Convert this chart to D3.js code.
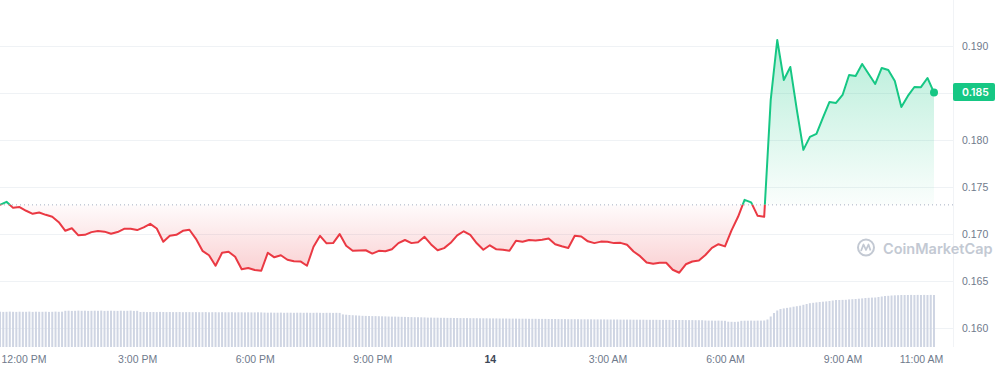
<!DOCTYPE html>
<html>
<head>
<meta charset="utf-8">
<script src="https://cdn.jsdelivr.net/npm/d3@7"></script>
<style>
  body { margin: 0; background: #fff; }
  svg { display: block; font-family: Inter, "Noto Sans", sans-serif; }
</style>
</head>
<body>
<div id="chart"></div>
<script>
// price, one point every 10 minutes from 11:30 AM on the 13th
var startTime = new Date(2023, 2, 13, 11, 30);
var prices = [
  0.17310, 0.17342, 0.17278, 0.17286, 0.17247, 0.17215, 0.17228, 0.17204, 0.17183, 0.17126,
  0.17034, 0.17061, 0.16986, 0.16991, 0.17020, 0.17031, 0.17025, 0.17002, 0.17021, 0.17055,
  0.17055, 0.17042, 0.17071, 0.17108, 0.17058, 0.16917, 0.16981, 0.16991, 0.17034, 0.17045,
  0.16949, 0.16821, 0.16774, 0.16662, 0.16800, 0.16811, 0.16758, 0.16625, 0.16638, 0.16617,
  0.16609, 0.16800, 0.16752, 0.16774, 0.16726, 0.16710, 0.16708, 0.16662, 0.16864, 0.16981,
  0.16901, 0.16903, 0.16999, 0.16875, 0.16821, 0.16825, 0.16827, 0.16792, 0.16821, 0.16816,
  0.16837, 0.16903, 0.16936, 0.16903, 0.16912, 0.16970, 0.16889, 0.16827, 0.16850, 0.16906,
  0.16986, 0.17029, 0.16991, 0.16901, 0.16832, 0.16880, 0.16837, 0.16832, 0.16821, 0.16928,
  0.16917, 0.16936, 0.16930, 0.16940, 0.16952, 0.16891, 0.16869, 0.16851, 0.16981, 0.16974,
  0.16922, 0.16903, 0.16919, 0.16918, 0.16903, 0.16906, 0.16885, 0.16814, 0.16764, 0.16697,
  0.16683, 0.16694, 0.16694, 0.16620, 0.16588, 0.16678, 0.16707, 0.16717, 0.16777, 0.16853,
  0.16891, 0.16868, 0.17039, 0.17183, 0.17363, 0.17337, 0.17193, 0.17183, 0.18426, 0.19064,
  0.18639, 0.18777, 0.18320, 0.17895, 0.18033, 0.18065, 0.18237, 0.18405, 0.18394, 0.18479,
  0.18692, 0.18681, 0.18809, 0.18702, 0.18596, 0.18766, 0.18745, 0.18628, 0.18352, 0.18469,
  0.18564, 0.18562, 0.18660, 0.18504
];

// volume bars (millions), one every 5 minutes
var volumes = [
  35.3,35.1,35.2,35.4,35.2,35.1,35.3,35.2,35.2,35.4,35.1,35.3,35.2,35.2,35.3,35.1,35.2,35.4,35.2,35.3,
  36.2,36.3,36.1,36.2,36.4,36.2,36.3,36.1,36.2,36.3,36.2,36.4,36.1,36.2,36.3,36.2,36.1,36.3,36.2,36.2,36.4,36.1,36.2,
  35.0,35.1,34.9,35.0,35.0,34.9,35.1,35.0,34.9,35.0,34.9,34.9,35.0,34.8,34.9,34.9,34.8,34.9,34.8,34.8,
  34.9,34.7,34.8,34.8,34.7,34.8,34.7,34.7,34.8,34.6,34.7,34.7,34.6,34.7,34.6,34.6,34.7,34.6,
  34.4,34.3,34.4,34.3,34.3,34.4,34.2,34.3,34.3,34.2,34.3,34.3,34.2,34.3,34.2,34.2,34.3,34.2,34.1,34.2,34.2,34.1,34.2,34.1,
  32.6,32.3,32.0,31.8,31.6,31.4,
  31.2,31.1,31.0,30.9,30.9,30.8,30.7,30.6,30.5,30.4,30.4,30.3,30.2,30.1,30.0,29.9,29.8,29.8,29.7,29.6,
  29.4,29.4,29.3,29.3,29.2,29.2,29.1,29.1,29.0,29.0,28.9,28.9,28.9,28.8,28.8,28.8,28.7,28.7,28.7,28.6,
  28.6,28.6,28.5,28.5,28.5,28.4,28.4,28.4,28.3,28.3,28.3,28.2,28.2,28.2,28.1,28.1,28.1,28.0,28.0,28.0,
  27.9,27.9,27.9,27.8,27.8,27.8,27.8,27.7,27.7,27.7,27.7,27.6,27.6,27.6,27.6,27.5,27.5,27.5,27.5,27.4,
  27.4,27.4,27.4,27.3,27.3,27.3,27.3,27.2,27.2,27.2,27.2,27.1,27.1,27.1,27.1,27.0,27.0,27.0,27.0,26.9,
  26.9,26.9,26.8,26.8,26.8,
  26.5,26.4,26.4,26.3,26.4,26.3,26.2,
  25.3,25.2,25.1,25.3,
  26.2,26.3,26.3,26.4,26.3,26.4,26.4,26.5,
  27.5,30.5,34.0,36.5,38.0,
  38.6,39.1,39.6,40.3,40.8,41.3,42.2,43.0,43.8,44.2,44.6,45.0,45.3,45.6,46.0,46.5,47.0,
  47.0,47.1,47.2,47.6,47.8,48.0,48.3,48.6,49.0,49.2,49.4,49.5,50.0,50.5,51.0,51.2,51.5,51.7,51.8,52.0,52.0,
  52.0,52.1,52.0,52.1,52.0,52.1,52.0,52.1,52.0
];

var yTicks = [0.160, 0.165, 0.170, 0.175, 0.180, 0.185, 0.190];
var xTicks = [
  new Date(2023, 2, 13, 12), new Date(2023, 2, 13, 15), new Date(2023, 2, 13, 18),
  new Date(2023, 2, 13, 21), new Date(2023, 2, 14, 0), new Date(2023, 2, 14, 3),
  new Date(2023, 2, 14, 6), new Date(2023, 2, 14, 9), new Date(2023, 2, 14, 11)
];
var openPrice = prices[0];
var lastPrice = prices[prices.length - 1];

var svgWidth = 998;
var svgHeight = 371;
var plotRight = 953;

var data = prices.map(function(p, i) {
  return { time: new Date(startTime.getTime() + i * 10 * 60000), price: p };
});
var volData = volumes.map(function(v, i) {
  return { time: new Date(startTime.getTime() + i * 5 * 60000), vol: v };
});

var svg = d3.select("#chart").append("svg")
  .attr("width", svgWidth)
  .attr("height", svgHeight);

var x = d3.scaleTime()
  .domain([startTime, data[data.length - 1].time])
  .range([0, 934]);
var y = d3.scaleLinear().domain([0.160, 0.190]).range([328, 46]);
var yVol = d3.scaleLinear().domain([0, 60]).range([347, 287]);

var yBase = y(openPrice);

// gridlines
svg.append("g")
  .selectAll("line")
  .data(yTicks)
  .enter()
  .append("line")
  .attr("x1", 0)
  .attr("x2", plotRight)
  .attr("y1", d => Math.round(y(d)) + 0.5)
  .attr("y2", d => Math.round(y(d)) + 0.5)
  .attr("stroke", "#eff2f5");

svg.append("line")
  .attr("x1", plotRight + 0.5).attr("x2", plotRight + 0.5)
  .attr("y1", 0).attr("y2", 347)
  .attr("stroke", "#f1f3f6");

// volume bars
svg.append("g")
  .selectAll("rect")
  .data(volData)
  .enter()
  .append("rect")
  .attr("x", d => x(d.time) - 1)
  .attr("width", 2)
  .attr("y", d => yVol(d.vol))
  .attr("height", d => yVol(0) - yVol(d.vol))
  .attr("fill", "#cfd5e3");

// gradients + clips
var defs = svg.append("defs");
var gUp = defs.append("linearGradient").attr("id", "gUp")
  .attr("gradientUnits", "userSpaceOnUse")
  .attr("x1", 0).attr("x2", 0).attr("y1", y(0.191)).attr("y2", yBase);
gUp.append("stop").attr("offset", 0).attr("stop-color", "#16c784").attr("stop-opacity", 0.32);
gUp.append("stop").attr("offset", 1).attr("stop-color", "#16c784").attr("stop-opacity", 0.02);

var gDown = defs.append("linearGradient").attr("id", "gDown")
  .attr("gradientUnits", "userSpaceOnUse")
  .attr("x1", 0).attr("x2", 0).attr("y1", yBase).attr("y2", y(d3.min(prices)));
gDown.append("stop").attr("offset", 0).attr("stop-color", "#ea3943").attr("stop-opacity", 0.02);
gDown.append("stop").attr("offset", 1).attr("stop-color", "#ea3943").attr("stop-opacity", 0.24);

defs.append("clipPath").attr("id", "clipUp")
  .append("rect").attr("x", -5).attr("y", 0).attr("width", 1000).attr("height", yBase);
defs.append("clipPath").attr("id", "clipDown")
  .append("rect").attr("x", -5).attr("y", yBase).attr("width", 1000).attr("height", 400);

var area = d3.area()
  .x(d => x(d.time))
  .y0(yBase)
  .y1(d => y(d.price));
var line = d3.line()
  .x(d => x(d.time))
  .y(d => y(d.price));

svg.append("path").datum(data)
  .attr("d", area).attr("fill", "url(#gUp)").attr("clip-path", "url(#clipUp)");
svg.append("path").datum(data)
  .attr("d", area).attr("fill", "url(#gDown)").attr("clip-path", "url(#clipDown)");

// dotted open price line
svg.append("line")
  .attr("x1", 0).attr("x2", plotRight)
  .attr("y1", yBase).attr("y2", yBase)
  .attr("stroke", "#a6b0c3")
  .attr("stroke-dasharray", "1,3");

svg.append("path").datum(data)
  .attr("d", line).attr("fill", "none")
  .attr("stroke", "#16c784").attr("stroke-width", 2)
  .attr("stroke-linejoin", "round")
  .attr("clip-path", "url(#clipUp)");
svg.append("path").datum(data)
  .attr("d", line).attr("fill", "none")
  .attr("stroke", "#ea3943").attr("stroke-width", 2)
  .attr("stroke-linejoin", "round")
  .attr("clip-path", "url(#clipDown)");

svg.append("circle")
  .attr("cx", x(data[data.length - 1].time))
  .attr("cy", y(lastPrice))
  .attr("r", 4)
  .attr("fill", "#16c784");

// watermark
var wm = svg.append("g").attr("fill", "none").attr("stroke", "#c3c9d3").attr("stroke-width", 2);
wm.append("circle").attr("cx", 866).attr("cy", 247.5).attr("r", 8);
wm.append("path")
  .attr("d", "M861,251 L863.5,244.5 L866,250 L868.5,244.5 L870.5,250.5")
  .attr("stroke-width", 1.8).attr("stroke-linejoin", "round");
svg.append("text")
  .attr("x", 883).attr("y", 253.5)
  .attr("font-size", "14.5px")
  .attr("font-weight", 600)
  .attr("fill", "#c3c9d3")
  .text("CoinMarketCap");

// y axis
var yAxis = svg.append("g")
  .attr("transform", "translate(962,0)")
  .call(d3.axisRight(y).tickValues(yTicks).tickSize(0).tickPadding(0).tickFormat(d3.format(".3f")));
yAxis.select(".domain").remove();
yAxis.selectAll("text")
  .attr("fill", "#6f7a8c")
  .attr("font-size", "10.5px");

// price badge
svg.append("rect")
  .attr("x", 953).attr("y", y(lastPrice) - 9.5)
  .attr("width", 42).attr("height", 18)
  .attr("rx", 2)
  .attr("fill", "#16c784");
svg.append("text")
  .attr("x", 962).attr("y", y(lastPrice))
  .attr("dy", "0.35em")
  .attr("font-size", "10.5px")
  .attr("font-weight", 600)
  .attr("fill", "#fff")
  .text(d3.format(".3f")(lastPrice));

// x axis
var fmtHour = d3.timeFormat("%-I:%M %p");
var xAxis = svg.append("g")
  .attr("transform", "translate(0,355.5)")
  .call(d3.axisBottom(x).tickValues(xTicks).tickSize(0).tickPadding(0)
    .tickFormat(d => d.getHours() === 0 ? d3.timeFormat("%-d")(d) : fmtHour(d)));
xAxis.select(".domain").remove();
xAxis.selectAll("text")
  .attr("font-size", "10.5px")
  .attr("font-weight", d => d.getHours() === 0 ? 700 : 400)
  .attr("fill", d => d.getHours() === 0 ? "#3d4757" : "#6f7a8c");
// first label sits flush with the left edge
xAxis.selectAll(".tick")
  .filter((d, i) => i === 0)
  .select("text")
  .attr("text-anchor", "start")
  .attr("x", -x(xTicks[0]) + 1);
</script>
</body>
</html>
